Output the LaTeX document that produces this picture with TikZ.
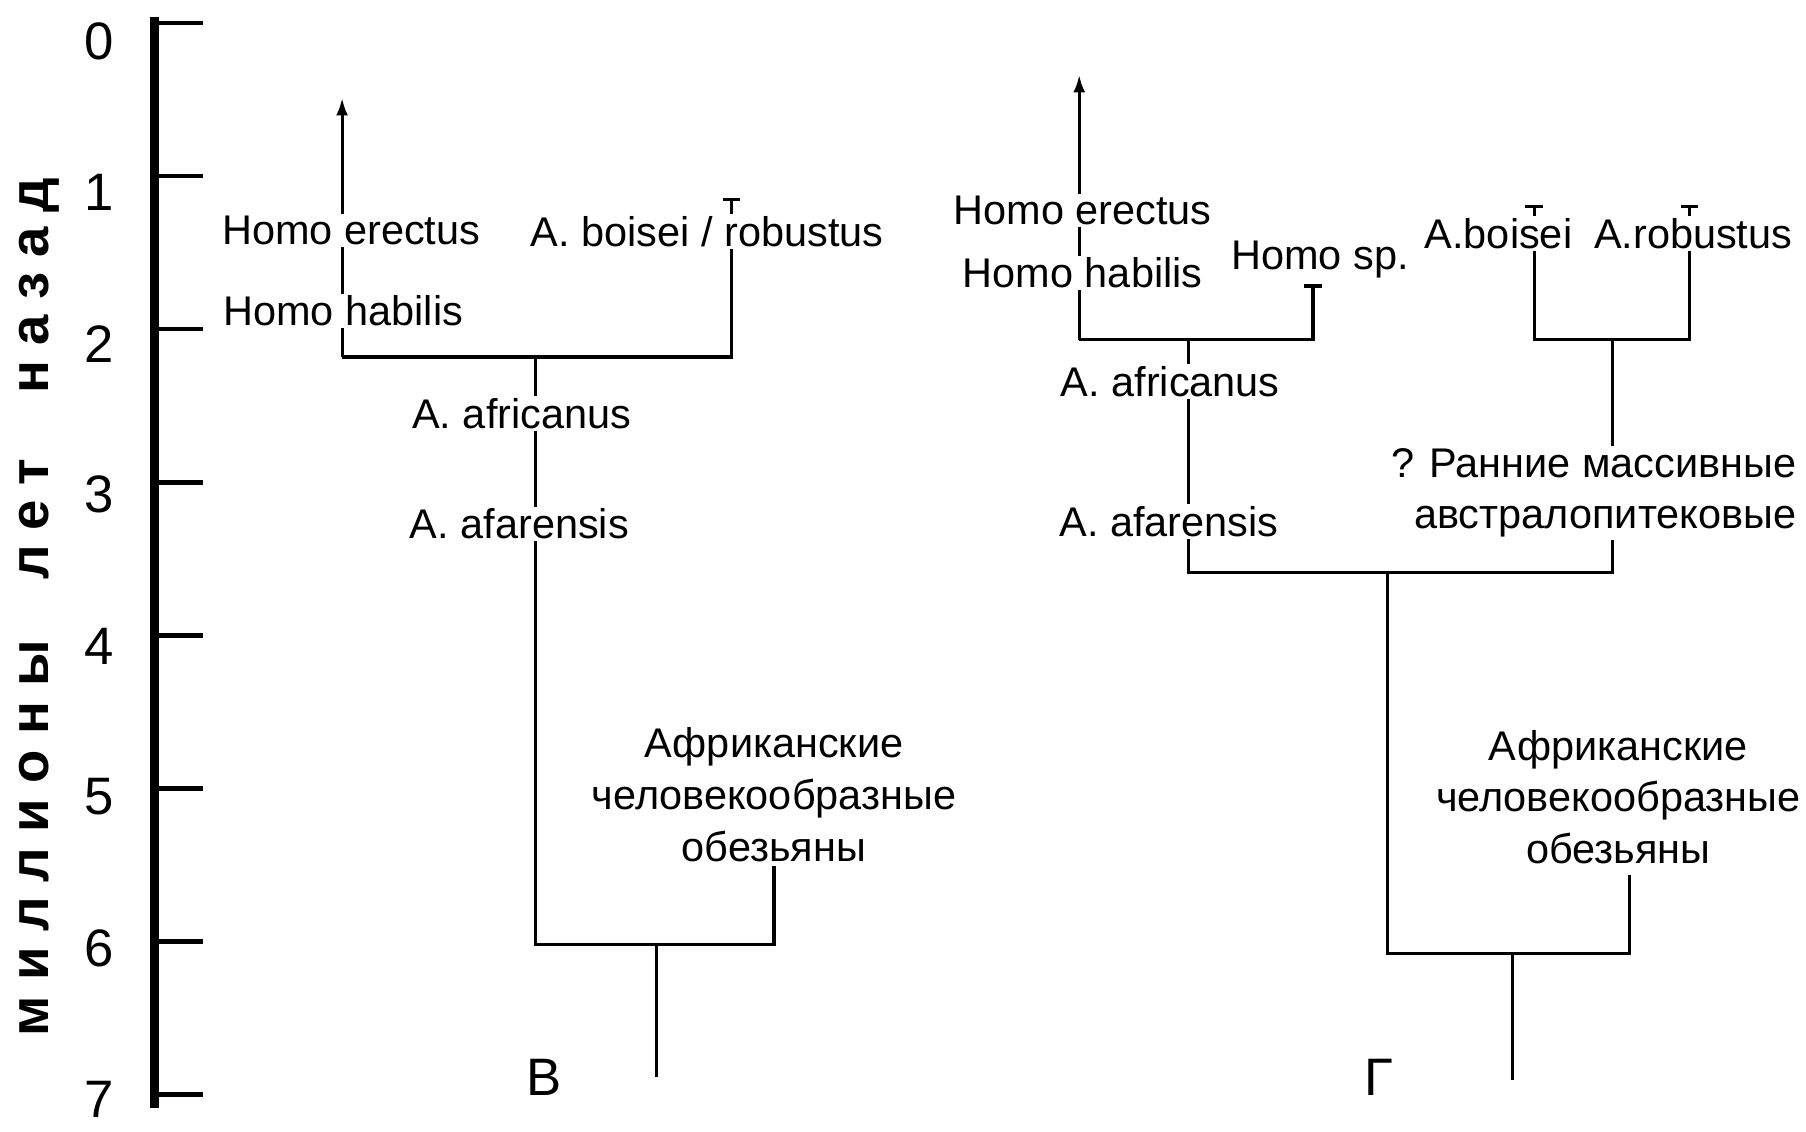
\documentclass[tikz,border=0pt]{standalone}
\usepackage{fontspec}
\setmainfont{Liberation Sans}
\newfontfamily\ttlfont[LetterSpace=28]{Liberation Sans}
\usetikzlibrary{arrows.meta}

\begin{document}
\begin{tikzpicture}[x=0.011518cm, y=-0.011518cm]
\tikzstyle{lbl}=[inner sep=0.6pt, fill=white, font=\fontsize{11.8}{14.7}\selectfont]
\tikzstyle{grp}=[lbl, align=center]
\tikzstyle{num}=[inner sep=0pt, font=\fontsize{15}{18}\selectfont]
\tikzstyle{br}=[line width=0.9pt]
\tikzstyle{up}=[br, -{Latex[length=5pt, width=3.4pt]}]
\tikzstyle{stop}=[br, -{Bar[width=5pt]}]
\tikzstyle{both}=[br, {Bar[width=5pt]}-{Bar[width=5pt]}]
\tikzstyle{axis}=[line width=2.4pt]
\tikzstyle{tck}=[line width=1.3pt]

\useasboundingbox (0,0) rectangle (1568,982);

% time scale
\draw[axis] (134,15) -- (134,962);
\foreach \t in {0,...,7} {
  \draw[tck] (134,{20+132.9*\t}) -- (176,{20+132.9*\t});
  \node[num] (n\t) at (86,{36+131.2*\t}) {\t};
}
\node[rotate=90, anchor=base, font=\ttlfont\bfseries\fontsize{15.5}{18}\selectfont] (ttl) at (42,527)
  {миллионы\hspace{0.3cm} лет\hspace{0.35cm} назад};

% tree B
\coordinate (j1) at (297,310);
\coordinate (top1) at (297,85);
\coordinate (m1) at (465,310);
\coordinate (r1) at (635,310);
\coordinate (rt1) at (635,172);
\coordinate (b1) at (465,820);
\coordinate (s1) at (570,820);
\coordinate (c1) at (672,820);
\coordinate (ct1) at (672,752);
\coordinate (root1) at (570,935);

\draw[up] (j1) -- (top1);
\draw[stop] (j1) -- (r1) -- (rt1);
\draw[br] (m1) -- (b1) -- (c1) -- (ct1);
\draw[br] (s1) -- (root1);

\node[lbl] (he1) at (305,200) {Homo erectus};
\node[lbl] (hh1) at (298,270) {Homo habilis};
\node[lbl] (bo1) at (614,201) {A. boisei / robustus};
\node[lbl] (af1) at (453,359) {A. africanus};
\node[lbl] (fa1) at (451,455) {A. afarensis};
\node[grp] (ap1) at (672,690) {Африканские\\человекообразные\\обезьяны};
\node[num] (v1) at (472,935) {В};

% tree G
\coordinate (j2) at (937,295);
\coordinate (top2) at (937,65);
\coordinate (m2) at (1032,295);
\coordinate (h2) at (1140,295);
\coordinate (ht2) at (1140,247);
\coordinate (b2) at (1032,497);
\coordinate (s2) at (1205,497);
\coordinate (e2) at (1400,497);
\coordinate (et2) at (1400,295);
\coordinate (k2) at (1332,295);
\coordinate (kt2) at (1332,178);
\coordinate (q2) at (1467,295);
\coordinate (qt2) at (1467,178);
\coordinate (b3) at (1205,828);
\coordinate (s3) at (1313,828);
\coordinate (c3) at (1415,828);
\coordinate (ct3) at (1415,760);
\coordinate (root2) at (1313,938);

\draw[up] (j2) -- (top2);
\draw[stop] (j2) -- (h2) -- (ht2);
\draw[br] (m2) -- (b2) -- (e2) -- (et2);
\draw[both] (kt2) -- (k2) -- (q2) -- (qt2);
\draw[br] (s2) -- (b3) -- (c3) -- (ct3);
\draw[br] (s3) -- (root2);

\node[lbl] (he2) at (940,183) {Homo erectus};
\node[lbl] (hh2) at (940,237) {Homo habilis};
\node[lbl] (hs2) at (1146,225) {Homo sp.};
\node[lbl] (bo2) at (1301,203) {A.boisei};
\node[lbl] (ro2) at (1470,203) {A.robustus};
\node[lbl] (af2) at (1016,331) {A. africanus};
\node[lbl] (fa2) at (1015,453) {A. afarensis};
\node[grp, align=right, anchor=east] (pm2) at (1562,428) {? Ранние массивные\\австралопитековые};
\node[grp] (ap2) at (1405,692) {Африканские\\человекообразные\\обезьяны};
\node[num] (g2) at (1197,935) {Г};
\end{tikzpicture}
\end{document}
